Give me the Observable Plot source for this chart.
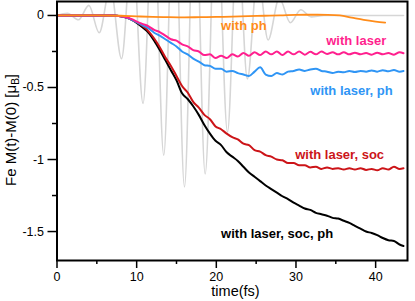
<!DOCTYPE html>
<html><head><meta charset="utf-8">
<script src="https://cdn.jsdelivr.net/npm/d3@7"></script>
<script src="https://cdn.jsdelivr.net/npm/@observablehq/plot@0.6"></script>
<style>
body{margin:0;background:#fff;}
svg{display:block;font-family:"Liberation Sans",Arial,sans-serif;}
</style>
</head><body><div id="chart"></div>
<script>
// time samples (fs) for the four magnetisation curves
const times = [0, 2, 4, 6, 7, 8, 8.7, 9.4, 10.1, 10.8, 11.5, 12.2, 12.9, 13.6, 14.3, 15, 15.7, 16.4, 17.1, 17.8, 18.5, 19.2, 19.9, 20.6, 21.3, 22, 22.7, 23.4, 24.1, 24.8, 25.5, 26.2, 26.9, 27.6, 28.3, 29, 29.7, 30.4, 31.1, 31.8, 32.5, 33.2, 33.9, 34.6, 35.3, 36, 36.7, 37.4, 38.1, 38.8, 39.5, 40.2, 40.9, 41.6, 42.3, 43, 43.5];

const withLaser = [0, 0, 0, 0, 0,
  -0.005, -0.012, -0.025, -0.045, -0.06, -0.075, -0.1, -0.115, -0.14, -0.165, -0.175, -0.2, -0.215, -0.24, -0.25, -0.275, -0.27, -0.295, -0.28, -0.295, -0.27, -0.285, -0.26, -0.28, -0.255, -0.275, -0.25, -0.27, -0.25, -0.275, -0.25, -0.27, -0.25, -0.272, -0.252, -0.27, -0.25, -0.268, -0.255, -0.27, -0.255, -0.27, -0.258, -0.27, -0.26, -0.272, -0.258, -0.27, -0.26, -0.272, -0.255,
  -0.262];

const withLaserPh = [0, 0, 0, 0, 0,
  -0.005, -0.015, -0.03, -0.05, -0.07, -0.09, -0.12, -0.14, -0.165, -0.19, -0.215, -0.25, -0.27, -0.3, -0.32, -0.345, -0.35, -0.37, -0.37, -0.39, -0.385, -0.4, -0.41, -0.42, -0.39, -0.36, -0.41, -0.42, -0.4, -0.41, -0.39, -0.385, -0.375, -0.385, -0.375, -0.37, -0.385, -0.39, -0.4, -0.39, -0.395, -0.385, -0.392, -0.385, -0.39, -0.382, -0.39, -0.38, -0.388, -0.378, -0.39,
  -0.385];

const withLaserSoc = [0, 0, 0, 0, 0,
  -0.005, -0.015, -0.03, -0.05, -0.075, -0.11, -0.16, -0.22, -0.29, -0.35, -0.42, -0.49, -0.535, -0.6, -0.64, -0.69, -0.72, -0.77, -0.79, -0.82, -0.845, -0.86, -0.89, -0.9, -0.935, -0.945, -0.97, -0.98, -1.0, -1.005, -1.025, -1.025, -1.04, -1.04, -1.055, -1.05, -1.065, -1.055, -1.065, -1.06, -1.07, -1.06, -1.07, -1.06, -1.072, -1.065, -1.075, -1.06, -1.07, -1.05, -1.065,
  -1.06];

const withLaserSocPh = [0, 0, 0, 0, 0,
  -0.005, -0.015, -0.03, -0.055, -0.085, -0.12, -0.175, -0.24, -0.31, -0.38, -0.45, -0.54, -0.58, -0.63, -0.69, -0.76, -0.82, -0.87, -0.9, -0.95, -0.98, -1.01, -1.05, -1.09, -1.12, -1.15, -1.18, -1.205, -1.23, -1.255, -1.275, -1.3, -1.32, -1.34, -1.35, -1.37, -1.38, -1.39, -1.405, -1.41, -1.425, -1.44, -1.46, -1.48, -1.5, -1.51, -1.525, -1.545, -1.56, -1.565, -1.59,
  -1.6];

// "with ph" curve (own time samples)
const phTimes  = [0, 5, 8, 10, 12, 14, 16, 18, 20, 22, 24, 26, 28, 30, 32, 34, 35.5, 37, 38.5, 40, 41.2];
const withPh   = [0, 0, -0.002, -0.006, -0.01, -0.012, -0.013, -0.012, -0.01, -0.008, -0.005, -0.002, 0, 0.004, 0.005, 0.004, 0, -0.015, -0.03, -0.042, -0.05];

// laser pulse (grey), extrema
const laserTimes = [0, 1.3, 2.7, 4.0, 5.3, 6.7, 8.1, 9.45, 10.8, 12.1, 13.4, 14.7, 16.0, 17.3, 18.6, 20.0, 21.4, 22.65, 23.9, 25.2, 26.5, 27.9, 29.3, 30.6, 31.9, 33.5, 36, 40, 43.5];
const laserField = [0, 0.015, -0.03, 0.07, -0.12, 0.2, -0.3, 0.5, -0.61, 0.8, -0.97, 1.0, -1.19, 1.0, -1.1, 0.9, -0.81, 0.6, -0.44, 0.3, -0.17, 0.12, -0.05, 0.04, -0.01, 0, 0, 0, 0];

// labels
const labelText = ["with ph", "with laser", "with laser, ph", "with laser, soc", "with laser, soc, ph"];
const labelColor = ["#ff8c1a", "#ff1f8e", "#2f95f5", "#cc1418", "#000000"];
const labelT = [20.6, 33.8, 31.8, 29.9, 20.6];
const labelV = [-0.075, -0.179, -0.52, -0.964, -1.513];

const xMajor = [0, 10, 20, 30, 40];
const xMinor = [5, 15, 25, 35];
const yMajor = [0, -0.5, -1, -1.5];
const yMinor = [-0.25, -0.75, -1.25];

const rows = (ts, vs) => ts.map((t, i) => ({t, v: vs[i]})).filter(d => d.v !== undefined);
const labels = labelText.map((s, i) => ({s, c: labelColor[i], t: labelT[i], v: labelV[i]}));

const fmt = d => d === 0 ? "0" : String(d);

const plot = Plot.plot({
  width: 415, height: 301,
  marginLeft: 56.5, marginRight: 8, marginTop: 1, marginBottom: 41,
  x: {domain: [0, 44]},
  y: {domain: [-1.701, 0.097]},
  style: {fontFamily: '"Liberation Sans", Arial, sans-serif', fontSize: "12.5px", background: "white", color: "black", overflow: "visible"},
  marks: [
    Plot.line(rows(laserTimes, laserField), {x: "t", y: "v", stroke: "#d6d6d6", strokeWidth: 1.6, curve: "monotone-x", clip: true}),
    Plot.line(rows(times, withLaserSocPh), {x: "t", y: "v", stroke: "#000000", strokeWidth: 2, curve: "monotone-x"}),
    Plot.line(rows(times, withLaserSoc), {x: "t", y: "v", stroke: "#cc1418", strokeWidth: 2, curve: "monotone-x"}),
    Plot.line(rows(times, withLaserPh), {x: "t", y: "v", stroke: "#2f95f5", strokeWidth: 2, curve: "monotone-x"}),
    Plot.line(rows(times, withLaser), {x: "t", y: "v", stroke: "#ff1f8e", strokeWidth: 2, curve: "monotone-x"}),
    Plot.line(rows(phTimes, withPh), {x: "t", y: "v", stroke: "#ff8c1a", strokeWidth: 1.8, curve: "monotone-x"}),
    Plot.axisX({ticks: xMajor, tickSize: 8, tickPadding: 4, tickFormat: fmt, label: null, strokeWidth: 1.5, fontSize: 12.5}),
    Plot.axisX({ticks: xMinor, tickSize: 4, tickFormat: () => "", label: null, strokeWidth: 1.5}),
    Plot.axisY({ticks: yMajor, tickSize: 9, tickPadding: 4, tickFormat: fmt, label: null, strokeWidth: 1.5, fontSize: 12.5}),
    Plot.axisY({ticks: yMinor, tickSize: 4.5, tickFormat: () => "", label: null, strokeWidth: 1.5}),
    Plot.frame({stroke: "black", strokeWidth: 2}),
    Plot.text(labels, {x: "t", y: "v", text: "s", fill: "c", textAnchor: "start", lineAnchor: "middle", fontSize: 13, fontWeight: "bold"})
  ]
});

const svg = d3.select(plot);
svg.append("text")
  .attr("x", 235.5).attr("y", 296)
  .attr("text-anchor", "middle")
  .attr("font-size", 14.5)
  .attr("fill", "black")
  .text("time(fs)");

const yl = svg.append("text")
  .attr("transform", "translate(16,130) rotate(-90)")
  .attr("text-anchor", "middle")
  .attr("font-size", 15)
  .attr("fill", "black");
yl.append("tspan").text("Fe M(t)-M(0) [\u03BC");
yl.append("tspan").attr("font-size", 10).attr("dy", 3).text("B");
yl.append("tspan").attr("dy", -3).text("]");

document.getElementById("chart").appendChild(plot);
</script>
</body></html>
